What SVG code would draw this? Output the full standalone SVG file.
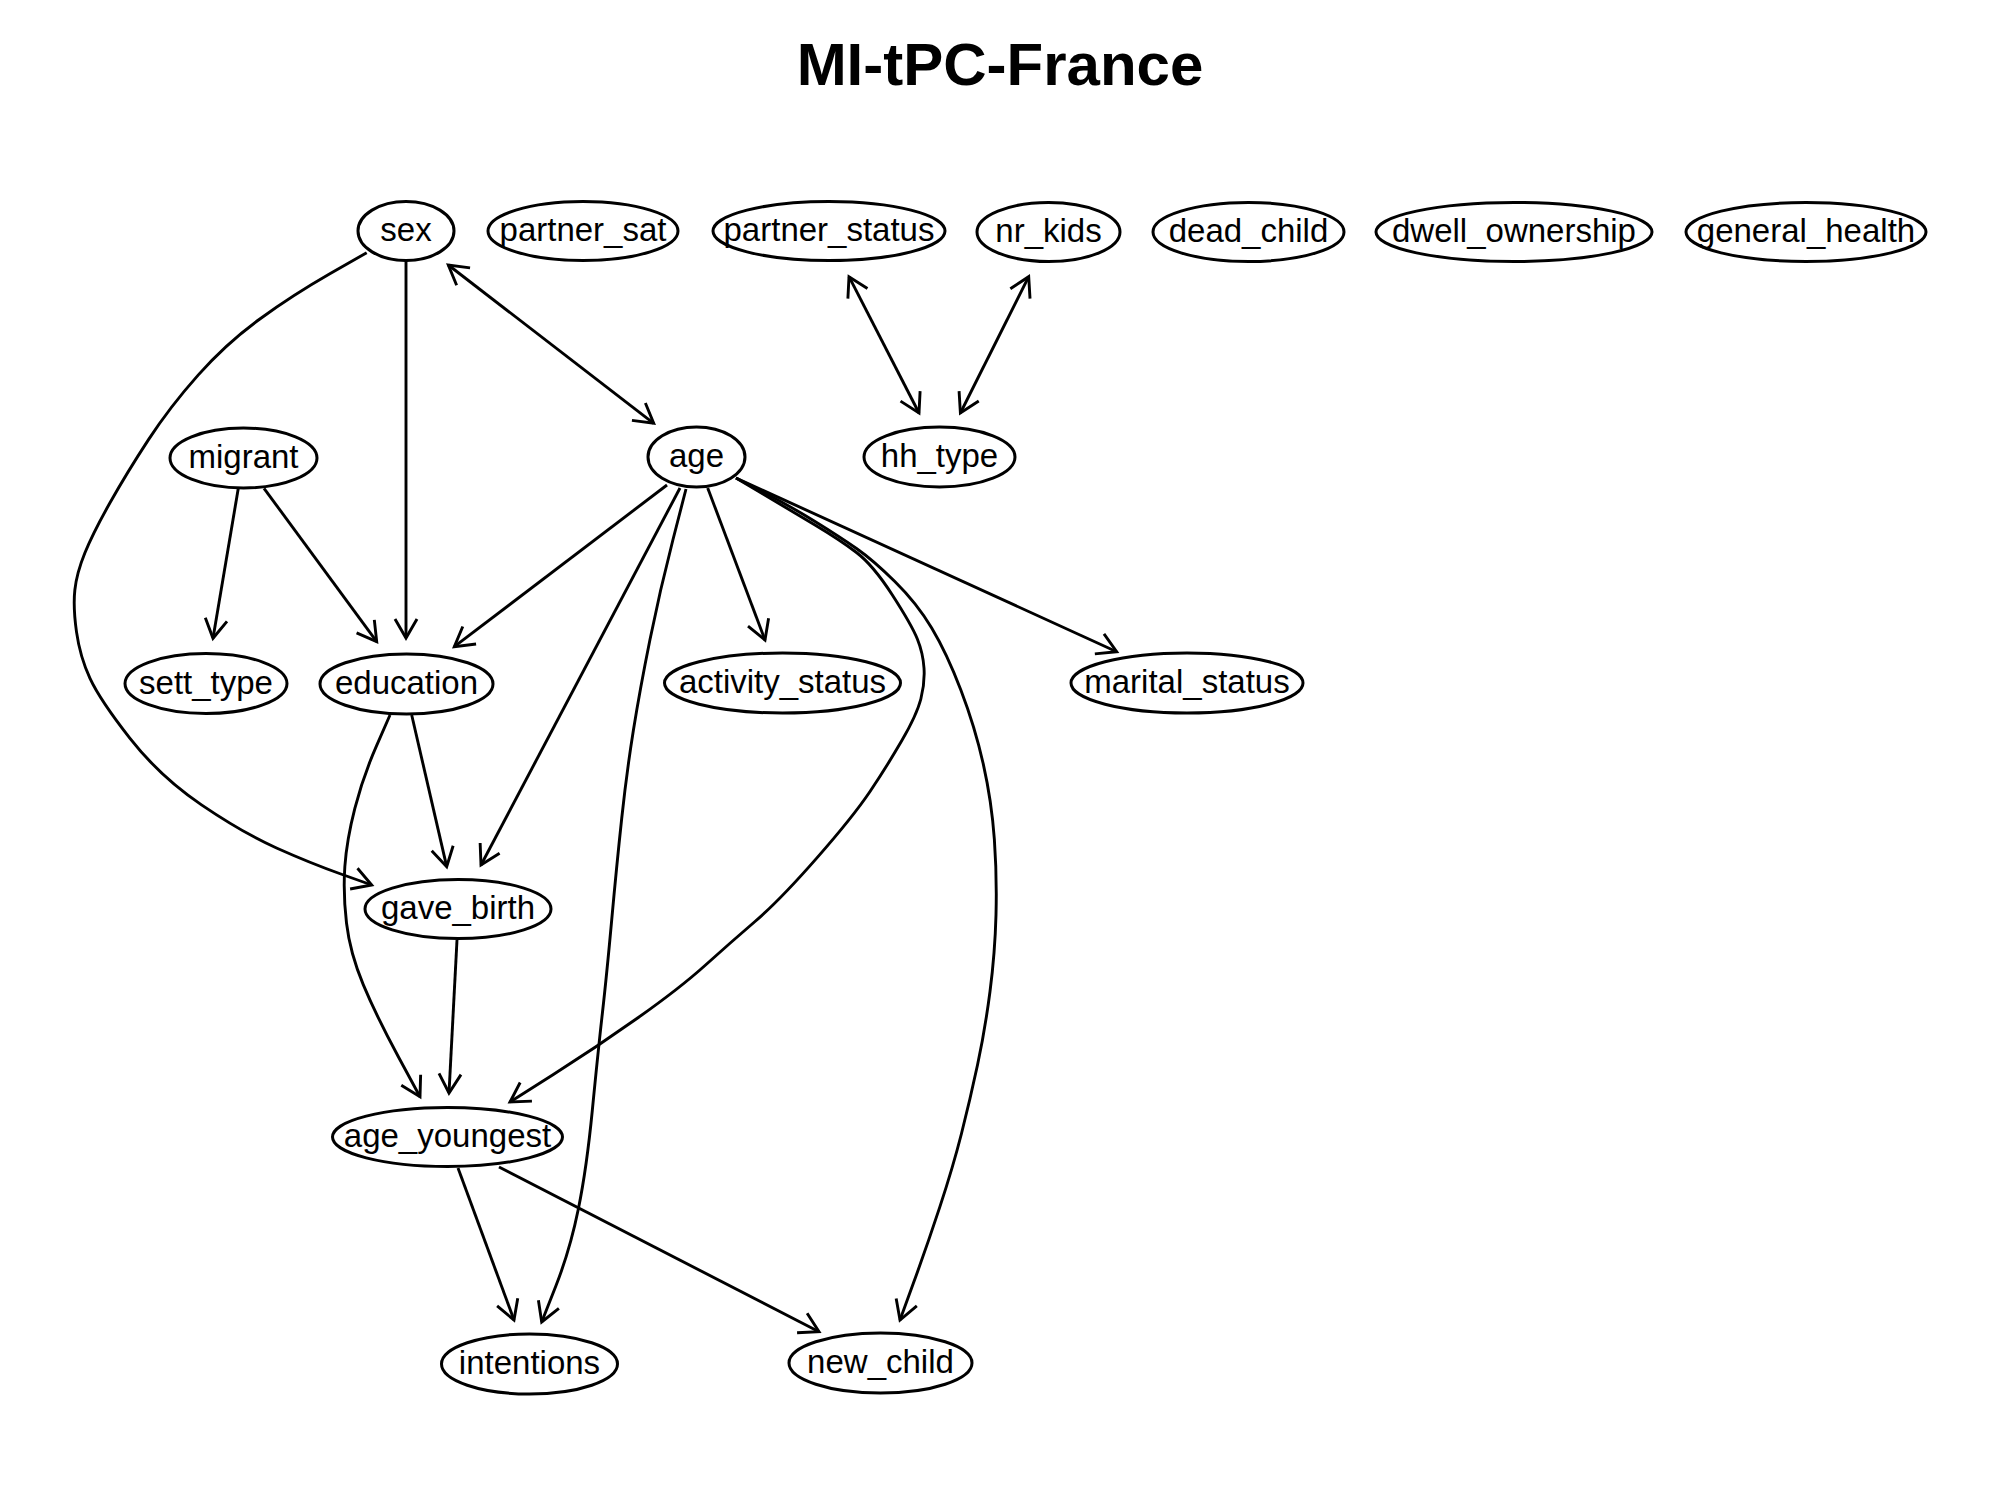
<svg xmlns="http://www.w3.org/2000/svg" width="2000" height="1500" viewBox="0 0 2000 1500">
  <style>
    .node ellipse { fill: #ffffff; stroke: #000000; stroke-width: 3; }
    .node text { font-family: "Liberation Sans", Arial, sans-serif; font-size: 33px; text-anchor: middle; fill: #000000; }
    .edge { fill: none; stroke: #000000; stroke-width: 2.9; stroke-linejoin: round; marker-end: url(#arrow); }
    .both { marker-start: url(#arrowStart); }
    .title { font-family: "Liberation Sans", Arial, sans-serif; font-size: 60px; font-weight: bold; text-anchor: middle; fill: #000000; }
  </style>
  <defs>
    <marker id="arrow" markerUnits="userSpaceOnUse" orient="auto" refX="0" refY="0" markerWidth="40" markerHeight="40" viewBox="-25 -20 40 40" overflow="visible">
      <path d="M-19,-11 L0,0 L-19,11" fill="none" stroke="#000000" stroke-width="2.9" stroke-linejoin="miter"/>
    </marker>
    <marker id="arrowStart" markerUnits="userSpaceOnUse" orient="auto-start-reverse" refX="0" refY="0" markerWidth="40" markerHeight="40" viewBox="-25 -20 40 40" overflow="visible">
      <path d="M-19,-11 L0,0 L-19,11" fill="none" stroke="#000000" stroke-width="2.9" stroke-linejoin="miter"/>
    </marker>
  </defs>

  <rect x="0" y="0" width="2000" height="1500" fill="#ffffff"/>
  <text class="title" x="1000" y="85">MI-tPC-France</text>

  <!-- connectors -->
  <g id="edges">
    <!-- sex <-> age, partner_status <-> hh_type, nr_kids <-> hh_type -->
    <path class="edge both" d="M448.3,265 L653.7,423.3"/>
    <path class="edge both" d="M849,276.7 L919,413"/>
    <path class="edge both" d="M1028.7,276.7 L960.4,413"/>
    <!-- sex -> education -->
    <path class="edge" d="M406,261 L406,638"/>
    <!-- sex -> gave_birth -->
    <path class="edge" d="M366.7,252.7 L329.85,273.85 Q293,295 259.85,319 Q226.7,343 198.35,374.85 Q170,406.7 148.35,439.85 Q126.7,473 109.85,503 Q93,533 84.85,553 Q76.7,573 74.85,590 Q73,607 76.5,631.85 Q80,656.7 90,678.35 Q100,700 130,738.35 Q160,776.7 201.5,804.85 Q243,833 276.5,848 Q310,863 340.85,874 L371.7,885"/>
    <!-- migrant -> sett_type, migrant -> education -->
    <path class="edge" d="M238.3,488.3 L213,638.3"/>
    <path class="edge" d="M264,488.3 L376.7,641.7"/>
    <!-- age -> education, age -> gave_birth -->
    <path class="edge" d="M667,485 L454.3,646.7"/>
    <path class="edge" d="M680,488 L481,865"/>
    <!-- age -> intentions -->
    <path class="edge" d="M686,489 L673,539.5 Q660,590 650,639.5 Q640,689 633.35,730.5 Q626.7,772 621.7,818.5 Q616.7,865 611.7,920 Q606.7,975 602.35,1013.5 Q598,1052 592.35,1110 Q586.7,1168 578.35,1209 Q570,1250 555.85,1286 L541.7,1322"/>
    <!-- age -> activity_status, age -> marital_status -->
    <path class="edge" d="M707.7,488 L765,640"/>
    <path class="edge" d="M736,478 L1116.7,651.7"/>
    <!-- age -> age_youngest -->
    <path class="edge" d="M736,478 L763,494 Q790,510 815,525 Q840,540 856.5,552.5 Q873,565 892.35,595 Q911.7,625 917.35,639 Q923,653 924,668 Q925,683 920.85,699 Q916.7,715 901.7,740.85 Q886.7,766.7 869.85,791.7 Q853,816.7 816.5,858.35 Q780,900 755,921.5 Q730,943 705,965.5 Q680,988 638.35,1017.5 Q596.7,1047 553.35,1074.5 L510,1102"/>
    <!-- age -> new_child -->
    <path class="edge" d="M736,478 L763,492 Q790,506 815,521.5 Q840,537 856.5,548.5 Q873,560 894.85,581.5 Q916.7,603 931.7,628 Q946.7,653 960.85,690 Q975,727 983.35,764.35 Q991.7,801.7 994.35,839.2 Q997,876.7 996,914.85 Q995,953 990,991.5 Q985,1030 977.5,1065 Q970,1100 961.5,1133.5 Q953,1167 939.85,1206.85 Q926.7,1246.7 913.35,1283.35 L900,1320"/>
    <!-- education -> gave_birth, education -> age_youngest -->
    <path class="edge" d="M411.7,715 L446.7,866.7"/>
    <path class="edge" d="M390,715 L376.5,745.85 Q363,776.7 354.85,808.35 Q346.7,840 344.85,866.5 Q343,893 346.5,923 Q350,953 363.35,984.85 Q376.7,1016.7 398.35,1056.7 L420,1096.7"/>
    <!-- gave_birth -> age_youngest -->
    <path class="edge" d="M457,940 L449,1093"/>
    <!-- age_youngest -> intentions, age_youngest -> new_child -->
    <path class="edge" d="M458,1168 L514,1320"/>
    <path class="edge" d="M499,1167 L819,1331.7"/>
  </g>

  <!-- nodes -->
  <g id="sex" class="node"><ellipse cx="406" cy="231" rx="48" ry="29.5"/><text x="406" y="241">sex</text></g>
  <g id="partner_sat" class="node"><ellipse cx="583" cy="231" rx="95" ry="29.5"/><text x="583" y="241">partner_sat</text></g>
  <g id="partner_status" class="node"><ellipse cx="829" cy="231" rx="116" ry="29.5"/><text x="829" y="241">partner_status</text></g>
  <g id="nr_kids" class="node"><ellipse cx="1048.5" cy="232" rx="71.5" ry="29.5"/><text x="1048.5" y="242">nr_kids</text></g>
  <g id="dead_child" class="node"><ellipse cx="1248.5" cy="232" rx="95.5" ry="29.5"/><text x="1248.5" y="242">dead_child</text></g>
  <g id="dwell_ownership" class="node"><ellipse cx="1514" cy="232" rx="138" ry="29.5"/><text x="1514" y="242">dwell_ownership</text></g>
  <g id="general_health" class="node"><ellipse cx="1806" cy="232" rx="120" ry="29.5"/><text x="1806" y="242">general_health</text></g>
  <g id="migrant" class="node"><ellipse cx="243.5" cy="458" rx="73.5" ry="30"/><text x="243.5" y="468">migrant</text></g>
  <g id="age" class="node"><ellipse cx="696.5" cy="457" rx="48.5" ry="30"/><text x="696.5" y="467">age</text></g>
  <g id="hh_type" class="node"><ellipse cx="939.5" cy="457" rx="75.5" ry="30"/><text x="939.5" y="467">hh_type</text></g>
  <g id="sett_type" class="node"><ellipse cx="206" cy="683.5" rx="81" ry="30"/><text x="206" y="693.5">sett_type</text></g>
  <g id="education" class="node"><ellipse cx="406.5" cy="684" rx="86.5" ry="30"/><text x="406.5" y="694">education</text></g>
  <g id="activity_status" class="node"><ellipse cx="782.5" cy="683" rx="118" ry="30"/><text x="782.5" y="693">activity_status</text></g>
  <g id="marital_status" class="node"><ellipse cx="1187" cy="683" rx="116" ry="30"/><text x="1187" y="693">marital_status</text></g>
  <g id="gave_birth" class="node"><ellipse cx="458" cy="909" rx="93" ry="29.5"/><text x="458" y="919">gave_birth</text></g>
  <g id="age_youngest" class="node"><ellipse cx="447.5" cy="1137" rx="115" ry="29.5"/><text x="447.5" y="1147">age_youngest</text></g>
  <g id="intentions" class="node"><ellipse cx="529.5" cy="1364" rx="88" ry="30"/><text x="529.5" y="1374">intentions</text></g>
  <g id="new_child" class="node"><ellipse cx="880.5" cy="1363" rx="91.5" ry="30"/><text x="880.5" y="1373">new_child</text></g>
</svg>
